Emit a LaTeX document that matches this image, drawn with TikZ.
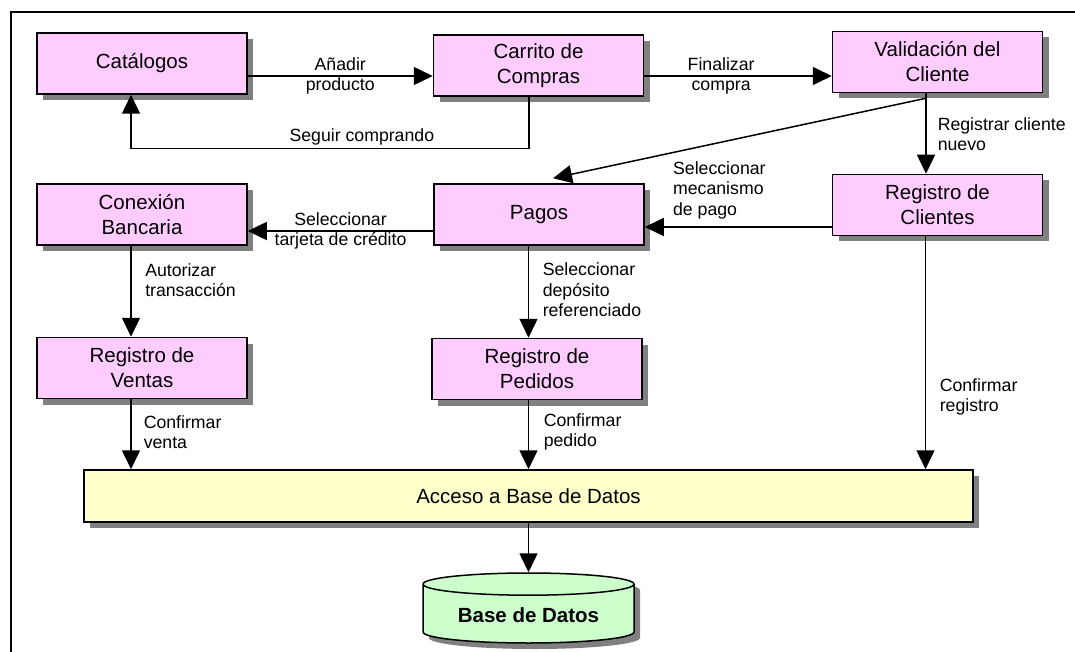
\documentclass[tikz,border=0pt]{standalone}
\usepackage{fontspec}
\setmainfont{Liberation Sans}
\usetikzlibrary{arrows.meta,positioning,shapes.geometric,shadows}
\definecolor{cpink}{RGB}{255,204,255}
\definecolor{cyellow}{RGB}{255,255,204}
\definecolor{cgreen}{RGB}{204,255,204}
\definecolor{cgray}{RGB}{128,128,128}

\begin{document}
\begin{tikzpicture}[x=1pt, y=-1pt, >={Triangle[length=19pt, width=18pt]}, line width=1.5pt,
  sombra/.style={drop shadow={shadow xshift=6pt, shadow yshift=-6pt, fill=cgray, opacity=1}},
  modulo/.style={draw, fill=cpink, minimum width=210pt, minimum height=61pt, align=center,
    font=\fontsize{20.5}{25}\selectfont, sombra},
  basedatos/.style={cylinder, shape border rotate=90, draw, fill=cgreen, aspect=0.15,
    minimum width=211pt, minimum height=70pt, font=\fontsize{20.5}{25}\selectfont\bfseries, sombra},
  etiq/.style={font=\fontsize{17.7}{20.5}\selectfont, inner sep=0pt, align=left}]
\useasboundingbox (0,0) rectangle (1075,652);
\draw (11,652) -- (11,12) -- (1075,12);

\node[modulo] (catal) at (142,63.5) {Catálogos};
\node[modulo] (carrito) at (538.5,65.5) {Carrito de\\Compras};
\node[modulo] (valid) at (937.5,62) {Validación del\\Cliente};
\node[modulo] (conex) at (142,214.5) {Conexión\\Bancaria};
\node[modulo] (pagos) at (539,214.5) {Pagos};
\node[modulo] (clientes) at (937.5,205) {Registro de\\Clientes};
\node[modulo] (ventas) at (142,368) {Registro de\\Ventas};
\node[modulo] (pedidos) at (537,369) {Registro de\\Pedidos};
\node[modulo, fill=cyellow, minimum width=889pt, minimum height=52pt] (acceso) at (528.5,496) {Acceso a Base de Datos};
\node[basedatos, anchor=shape center] (base) at (528.5,608) {Base de Datos};

% compra
\draw[->] ([yshift=-12.5pt]catal.east) -- node[etiq, align=center] {Añadir\\producto} ([yshift=-10.5pt]carrito.west);
\draw[->] ([yshift=-10.5pt]carrito.east) -- node[etiq, align=center, pos=0.41] {Finalizar\\compra} ([yshift=-14pt]valid.west);
\draw[->] ([xshift=-9.5pt]carrito.south) |- node[etiq, above=3pt, pos=0.71] {Seguir comprando}
  ([xshift=-11pt, yshift=-54pt]catal.south) -- ([xshift=-11pt]catal.south);

% clientes y pagos
\draw[->] ([xshift=-11.5pt]valid.south) -- node[etiq, right=11pt, pos=0.51] {Registrar cliente\\nuevo} ([xshift=-11.5pt]clientes.north);
\draw[->] ([xshift=-11.5pt, yshift=-5pt]valid.south) -- node[etiq, anchor=north west, pos=0.68, yshift=-8pt] {Seleccionar\\mecanismo\\de pago} ([xshift=14pt, yshift=5pt]pagos.north);
\draw[->] ([yshift=-22pt]clientes.west) -- ([yshift=-12.5pt]pagos.east);
\draw[->] ([yshift=-16.5pt]pagos.west) -- node[etiq, align=center] {Seleccionar\\tarjeta de crédito} ([yshift=-16.5pt]conex.east);
\draw[->] ([xshift=-11pt]conex.south) -- node[etiq, right=13.5pt, pos=0.38] {Autorizar\\transacción} ([xshift=-11pt]ventas.north);
\draw[->] ([xshift=-10.5pt]pagos.south) -- node[etiq, right=13.5pt, pos=0.48] {Seleccionar\\depósito\\referenciado} ([xshift=-8.5pt]pedidos.north);

% acceso a datos
\coordinate (bajaV) at ([xshift=-11pt]ventas.south);
\coordinate (bajaP) at ([xshift=-8.5pt]pedidos.south);
\coordinate (bajaC) at ([xshift=-12pt]clientes.south);
\draw[->] (bajaV) -- node[etiq, right=12pt, pos=0.47] {Confirmar\\venta} (bajaV |- acceso.north);
\draw[->] (bajaP) -- node[etiq, right=14.5pt, pos=0.46] {Confirmar\\pedido} (bajaP |- acceso.north);
\draw[->] (bajaC) -- node[etiq, right=13.5pt, pos=0.69] {Confirmar\\registro} (bajaC |- acceso.north);
\draw[->] (acceso) -- (base);
\end{tikzpicture}
\end{document}
